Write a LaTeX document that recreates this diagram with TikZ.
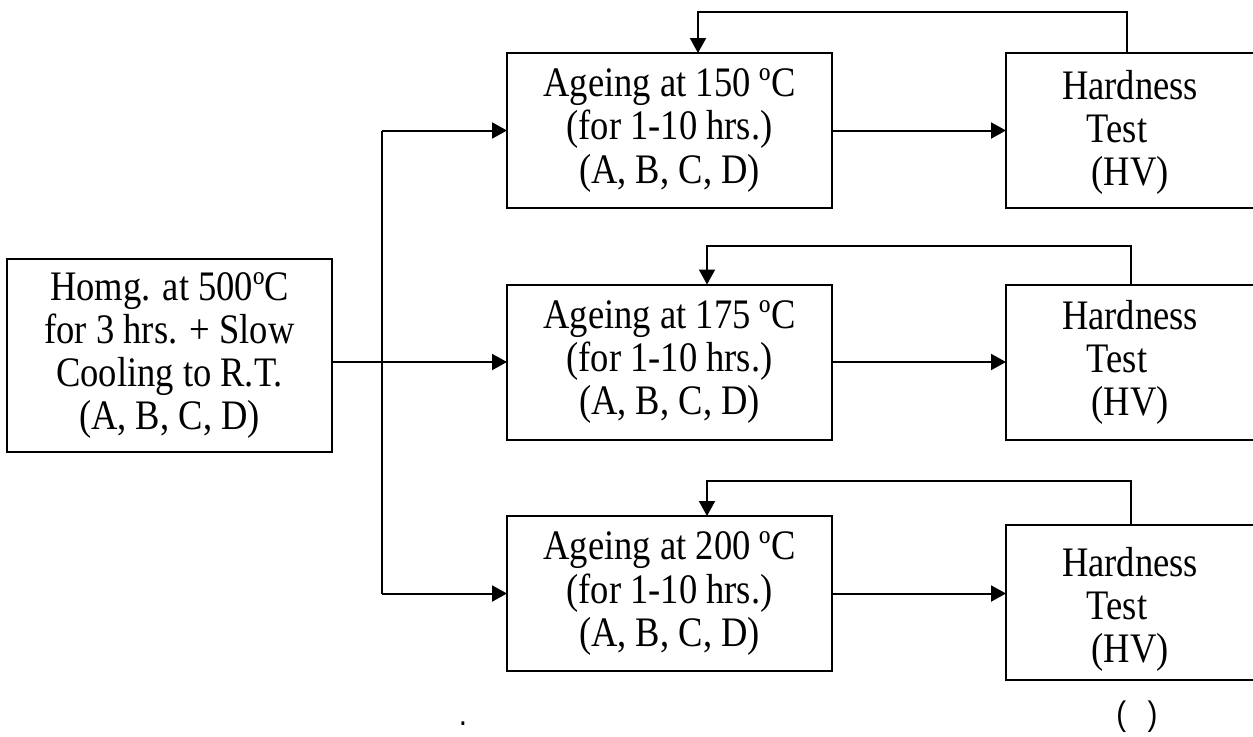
\documentclass[tikz,border=0pt]{standalone}
\usepackage{fontspec}
\setmainfont[FakeStretch=0.87]{Liberation Serif}
\newfontfamily\sansfont[FakeStretch=0.87]{Liberation Sans}
\usetikzlibrary{arrows.meta}
\newcommand{\testline}{\hbox{Test\kern19.5pt}}
\begin{document}
\begin{tikzpicture}[x=0.75pt,y=-0.75pt,
  every node/.style={inner sep=0pt,outer sep=0pt},
  boxstyle/.style={draw,line width=1.5pt,align=center,
    font=\fontsize{31.5}{32.3}\selectfont},
  ageingbox/.style={boxstyle,minimum width=243.75pt,minimum height=116.25pt},
  hardbox/.style={draw,line width=1.5pt,minimum width=189pt,minimum height=116.25pt},
  hardtext/.style={align=center,font=\fontsize{31.5}{32.3}\selectfont},
  link/.style={line width=1.5pt},
  arr/.style={link,-{Triangle[length=11.25pt,width=12pt]}},
  note/.style={anchor=base,font=\sansfont\fontsize{25.5}{28}\selectfont}]
\useasboundingbox (0,0) rectangle (1253,736);
\clip (0,0) rectangle (1253,736);
% left box
\node[boxstyle,minimum width=243.75pt,minimum height=144.75pt] (homg) at (169.5,355.5)
  {Homg. at 500ºC\\for 3 hrs. + Slow\\Cooling to R.T.\\(A, B, C, D)};
% ageing boxes
\node[ageingbox] (topA) at (669.5,130.5) {Ageing at 150 ºC\\(for 1-10 hrs.)\\(A, B, C, D)};
\node[ageingbox] (midA) at (669.5,362) {Ageing at 175 ºC\\(for 1-10 hrs.)\\(A, B, C, D)};
\node[ageingbox] (botA) at (669.5,593.5) {Ageing at 200 ºC\\(for 1-10 hrs.)\\(A, B, C, D)};
% hardness boxes
\node[hardbox] (topH) at (1132,130) {};
\node[hardbox] (midH) at (1132,362) {};
\node[hardbox] (botH) at (1132,602) {};
\node[hardtext] (topHt) at (1130,132) {Hardness\\\testline\\(HV)};
\node[hardtext] (midHt) at (1130,362) {Hardness\\\testline\\(HV)};
\node[hardtext] (botHt) at (1130,609) {Hardness\\\testline\\(HV)};
% splitting connectors
\coordinate (jn) at (382,362);
\draw[arr] (homg.east |- midA.west) -- (midA.west);
\draw[link] (jn |- topA.west) -- (jn |- botA.west);
\draw[arr] (jn |- topA.west) -- (topA.west);
\draw[arr] (jn |- botA.west) -- (botA.west);
% ageing -> hardness
\draw[arr] (topA.east) -- (topA.east -| topH.west);
\draw[arr] (midA.east) -- (midA.east -| midH.west);
\draw[arr] (botA.east) -- (botA.east -| botH.west);
% feedback loops
\coordinate (f1r) at (1127,12);
\coordinate (f1l) at (698,12);
\draw[arr] (f1r |- topH.north) -- (f1r) -- (f1l) -- (f1l |- topA.north);
\coordinate (f2r) at (1131,246);
\coordinate (f2l) at (707,246);
\draw[arr] (f2r |- midH.north) -- (f2r) -- (f2l) -- (f2l |- midA.north);
\coordinate (f3r) at (1131,481);
\coordinate (f3l) at (707,481);
\draw[arr] (f3r |- botH.north) -- (f3r) -- (f3l) -- (f3l |- botA.north);
% bottom notes
\node[note] (dot) at (463,725) {.};
\node[note] (paren) at (1137,725) {(\hspace{16pt})};
\end{tikzpicture}
\end{document}
